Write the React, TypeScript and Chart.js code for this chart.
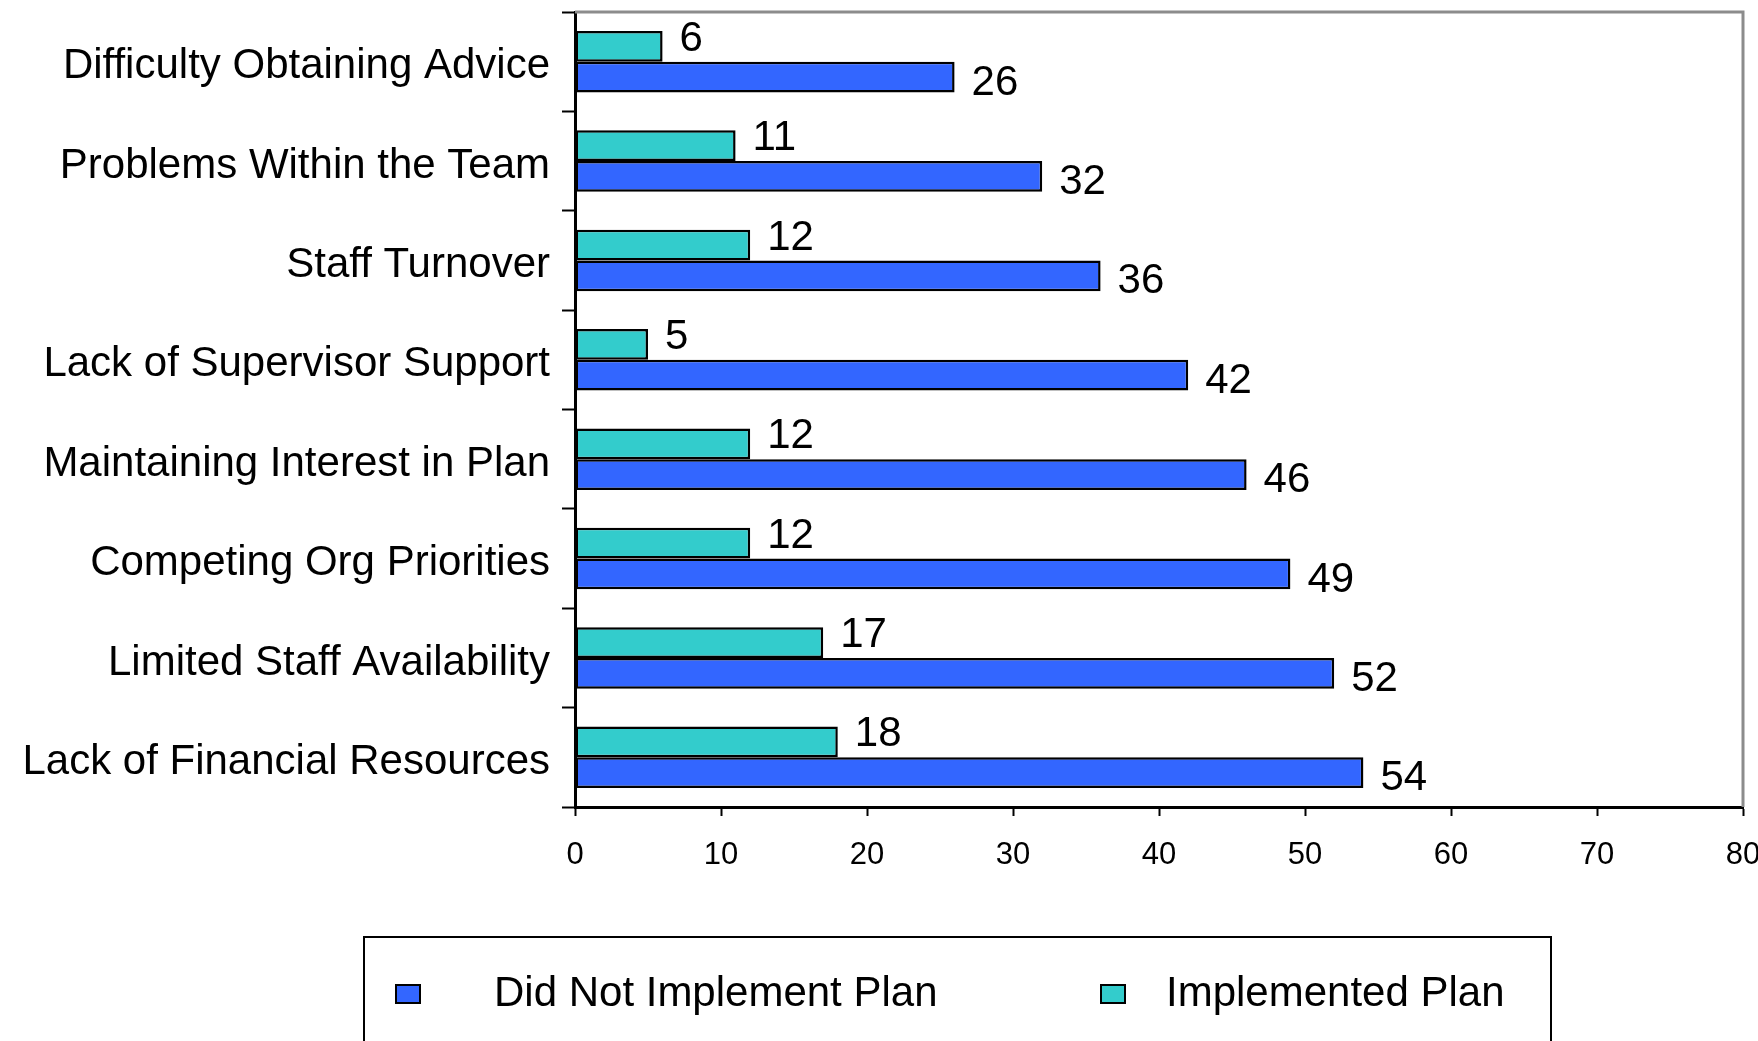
import React, { useEffect, useRef } from "react";
import { Chart, registerables } from "chart.js";

Chart.register(...registerables);

const FONT = "'Liberation Sans', Arial, Helvetica, sans-serif";

const categories = [
  "Difficulty Obtaining Advice",
  "Problems Within the Team",
  "Staff Turnover",
  "Lack of Supervisor Support",
  "Maintaining Interest in Plan",
  "Competing Org Priorities",
  "Limited Staff Availability",
  "Lack of Financial Resources",
];
const implementedPlan = [6, 11, 12, 5, 12, 12, 17, 18];
const didNotImplementPlan = [26, 32, 36, 42, 46, 49, 52, 54];
const xTickValues = [0, 10, 20, 30, 40, 50, 60, 70, 80];
const seriesImplemented = "Implemented Plan";
const seriesDidNot = "Did Not Implement Plan";

const BLUE = "#3366FF";
const TEAL = "#33CCCC";

export default function App() {
  const ref = useRef<HTMLCanvasElement>(null);

  useEffect(() => {
    document.body.style.margin = "0";
    const canvas = ref.current;
    if (!canvas) return;

    const valueLabels = {
      id: "valueLabels",
      afterDatasetsDraw(chart: any) {
        const ctx = chart.ctx;
        ctx.save();
        ctx.font = `42px ${FONT}`;
        ctx.fillStyle = "#000";
        ctx.textAlign = "left";
        ctx.textBaseline = "middle";
        chart.data.datasets.forEach((ds: any, di: number) => {
          const meta = chart.getDatasetMeta(di);
          const dy = di === 0 ? -7 : 6;
          meta.data.forEach((el: any, i: number) => {
            ctx.fillText(String(ds.data[i]), el.x + 17, el.y + dy);
          });
        });
        ctx.restore();
      },
    };

    const frame = {
      id: "frame",
      beforeDatasetsDraw(chart: any) {
        const { left, right, top, bottom } = chart.chartArea;
        const ctx = chart.ctx;
        ctx.save();
        ctx.strokeStyle = "#8c8c8c";
        ctx.lineWidth = 3;
        ctx.beginPath();
        ctx.moveTo(left, top);
        ctx.lineTo(right, top);
        ctx.lineTo(right, bottom);
        ctx.stroke();
        ctx.restore();
      },
    };

    const boxLegend = {
      id: "boxLegend",
      afterDraw(chart: any) {
        const ctx = chart.ctx;
        ctx.save();
        ctx.strokeStyle = "#000";
        ctx.lineWidth = 2;
        ctx.strokeRect(364, 937, 1187, 160);
        const ds = chart.data.datasets;
        const items = [
          { ds: ds[1], mx: 396, tx: 494 },
          { ds: ds[0], mx: 1101, tx: 1166 },
        ];
        ctx.font = `42px ${FONT}`;
        ctx.textAlign = "left";
        ctx.textBaseline = "middle";
        items.forEach((it) => {
          ctx.fillStyle = it.ds.backgroundColor;
          ctx.fillRect(it.mx, 985, 24, 18);
          ctx.lineWidth = 2;
          ctx.strokeStyle = "#000";
          ctx.strokeRect(it.mx, 985, 24, 18);
          ctx.fillStyle = "#000";
          ctx.fillText(it.ds.label, it.tx, 994);
        });
        ctx.restore();
      },
    };

    const chart = new Chart(canvas, {
      type: "bar",
      data: {
        labels: categories,
        datasets: [
          {
            label: seriesImplemented,
            data: implementedPlan,
            backgroundColor: TEAL,
            borderColor: "#000",
            borderWidth: 2.5,
            borderSkipped: false,
            categoryPercentage: 0.62,
            barPercentage: 1,
          },
          {
            label: seriesDidNot,
            data: didNotImplementPlan,
            backgroundColor: BLUE,
            borderColor: "#000",
            borderWidth: 2.5,
            borderSkipped: false,
            categoryPercentage: 0.62,
            barPercentage: 1,
          },
        ],
      },
      options: {
        indexAxis: "y",
        responsive: false,
        animation: false,
        devicePixelRatio: 1,
        layout: { padding: { top: 12, right: 15, left: 0, bottom: 0 } },
        plugins: {
          legend: { display: false },
          tooltip: { enabled: false },
          title: { display: false },
        },
        scales: {
          x: {
            type: "linear",
            min: 0,
            max: 80,
            afterBuildTicks(scale: any) {
              scale.ticks = xTickValues.map((v) => ({ value: v }));
            },
            ticks: {
              font: { size: 31, family: FONT },
              color: "#000",
              padding: 21,
            },
            grid: {
              drawOnChartArea: false,
              drawTicks: true,
              tickLength: 9,
              tickColor: "#000",
              tickWidth: 2,
            },
            border: { color: "#000", width: 3 },
            afterFit(scale: any) {
              scale.height = 234;
              scale.paddingRight = 15;
              scale.paddingLeft = 0;
            },
          },
          y: {
            type: "category",
            grid: {
              offset: true,
              drawOnChartArea: false,
              drawTicks: true,
              tickLength: 13,
              tickColor: "#000",
              tickWidth: 2,
            },
            border: { color: "#000", width: 3 },
            ticks: {
              font: { size: 42, family: FONT },
              color: "#000",
              padding: 12,
              labelOffset: 5,
            },
            afterFit(scale: any) {
              scale.width = 575;
              scale.paddingTop = 0;
              scale.paddingBottom = 0;
            },
          },
        },
      },
      plugins: [frame, valueLabels, boxLegend],
    });

    return () => chart.destroy();
  }, []);

  return (
    <div style={{ width: 1758, height: 1041, background: "#fff" }}>
      <canvas ref={ref} width={1758} height={1041} style={{ display: "block" }} />
    </div>
  );
}
